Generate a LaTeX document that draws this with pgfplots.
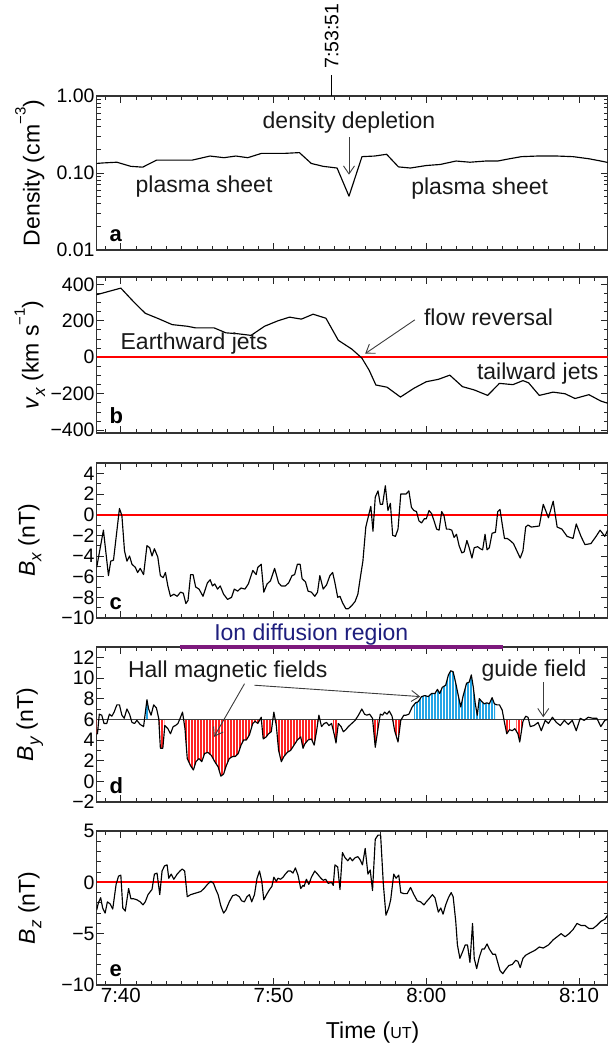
\documentclass[border=0pt]{standalone}
\usepackage{fontspec}
\setmainfont{Liberation Sans}
\usepackage{pgfplots}
\usepackage{pgfplotstable}
\pgfplotsset{compat=1.18}
\usepgfplotslibrary{fillbetween}
\usetikzlibrary{arrows.meta,patterns.meta}

\definecolor{hallred}{RGB}{255,35,35}
\definecolor{hallblue}{RGB}{35,165,230}
\definecolor{iondark}{RGB}{30,30,125}
\definecolor{ionbar}{RGB}{125,25,125}
\definecolor{annot}{RGB}{60,60,60}

\newcommand{\sub}[1]{\raisebox{-0.28em}{\fontsize{17}{17}\selectfont #1}}
\newcommand{\sups}[1]{\raisebox{0.6em}{\fontsize{15}{15}\selectfont #1}}

\pgfplotstableread{
x y
38.42 0.133
38.83 0.135
39.74 0.138
40.65 0.122
41.43 0.119
42.34 0.147
43.25 0.147
44.68 0.147
45.84 0.166
46.75 0.158
47.53 0.166
48.31 0.158
49.22 0.180
49.87 0.180
50.78 0.180
51.69 0.184
52.47 0.133
53.25 0.122
54.16 0.116
54.94 0.050
55.79 0.163
56.62 0.166
57.40 0.175
58.18 0.120
58.96 0.116
60.00 0.125
60.91 0.129
61.95 0.143
62.86 0.138
63.90 0.143
64.68 0.143
65.45 0.153
66.23 0.163
67.27 0.166
68.57 0.166
69.61 0.163
70.65 0.153
71.43 0.143
71.88 0.137
}\densdata

\pgfplotstableread{
x y
38.42 343
40.00 379
40.84 304
41.60 241
42.48 211
43.36 179
44.35 170
44.90 161
46.11 161
46.88 134
47.65 129
48.53 120
49.41 170
50.29 200
51.05 220
51.82 209
52.59 236
53.43 214
54.24 93
55.12 45
55.78 -4
56.26 -71
56.70 -152
57.43 -164
58.31 -218
59.19 -170
60.00 -134
60.79 -121
61.54 -98
62.37 -161
63.14 -179
64.02 -209
64.79 -143
65.67 -150
66.33 -128
66.70 -140
67.40 -209
68.31 -191
69.09 -200
69.74 -226
70.65 -205
71.43 -240
71.88 -252
}\vxdata

\pgfplotstableread{
x y
38.42 -5.1
38.86 -1.5
39.19 -5.9
39.34 -4.5
39.52 -4.4
39.91 0.6
40.07 -0.1
40.24 -3.5
40.40 -4.5
40.57 -4.0
40.73 -4.8
40.95 -5.1
41.10 -5.6
41.27 -5.2
41.49 -5.8
41.71 -3.0
41.89 -3.2
42.04 -4.0
42.20 -3.3
42.42 -4.1
42.59 -5.9
42.77 -6.1
42.92 -5.6
43.08 -6.9
43.25 -7.9
43.47 -7.7
43.69 -7.9
43.91 -7.5
44.09 -7.6
44.26 -8.6
44.40 -8.3
44.57 -5.8
44.73 -5.8
44.90 -7.0
45.12 -7.2
45.38 -7.9
45.67 -6.6
45.85 -6.3
46.00 -6.9
46.15 -6.7
46.33 -7.2
46.51 -6.9
46.73 -7.7
46.99 -8.2
47.25 -8.0
47.43 -7.2
47.65 -7.4
47.87 -7.1
48.13 -7.2
48.35 -6.7
48.64 -5.4
48.86 -5.8
48.97 -5.1
49.19 -4.8
49.36 -7.5
49.58 -6.7
49.80 -6.4
50.07 -5.2
50.33 -6.6
50.51 -6.9
50.77 -6.9
50.99 -6.6
51.21 -5.9
51.38 -5.8
51.56 -4.8
51.74 -4.8
51.87 -6.2
52.09 -6.5
52.26 -7.4
52.48 -7.5
52.70 -7.9
52.88 -7.5
53.03 -5.9
53.25 -7.2
53.47 -6.8
53.69 -5.9
53.87 -5.6
54.02 -6.6
54.20 -8.0
54.35 -7.9
54.51 -8.5
54.73 -9.1
54.90 -9.1
55.12 -8.8
55.34 -8.4
55.52 -7.7
55.67 -6.2
55.85 -4.5
56.04 -1.2
56.22 -0.1
56.37 0.8
56.51 -1.6
56.66 1.7
56.84 2.3
56.99 1.0
57.14 1.0
57.32 2.8
57.49 0.4
57.65 1.1
57.80 -2.0
57.98 -2.1
58.15 -1.4
58.33 2.0
58.53 2.0
58.68 2.0
58.86 2.3
59.03 0.7
59.19 0.4
59.36 0.3
59.52 -0.6
59.69 -0.8
59.87 -0.4
60.00 -0.4
60.18 0.4
60.35 0.1
60.51 -0.6
60.68 -1.4
60.84 -1.5
61.01 0.3
61.16 -0.1
61.32 -1.4
61.49 -1.4
61.67 -1.5
61.82 -2.2
61.98 -1.9
62.15 -3.0
62.33 -3.7
62.48 -3.6
62.66 -2.5
62.81 -3.2
62.99 -4.2
63.14 -3.2
63.36 -3.1
63.54 -3.3
63.69 -3.4
63.85 -1.9
63.98 -3.4
64.13 -3.2
64.31 -1.8
64.53 -1.7
64.68 0.3
64.83 0.5
64.97 -0.9
65.12 -2.3
65.30 -2.3
65.49 -2.5
65.71 -2.8
65.93 -3.5
66.15 -4.2
66.33 -3.5
66.51 -1.2
66.66 -1.0
66.88 -1.2
67.40 -1.1
67.66 1.0
68.00 -0.3
68.31 1.3
68.57 -1.2
68.88 -1.4
69.22 -2.1
69.61 -2.3
69.82 -0.9
70.13 -2.1
70.39 -2.9
70.78 -2.8
71.12 -2.1
71.38 -1.5
71.69 -2.1
71.88 -1.5
}\bxdata

\pgfplotstableread{
x y
38.42 4.6
38.47 4.6
38.59 6.5
38.75 6.4
38.90 5.6
39.08 5.6
39.25 6.5
39.41 6.3
39.56 6.7
39.74 7.4
39.91 7.4
40.07 6.4
40.22 6.1
40.40 7.0
40.57 6.5
40.73 5.7
40.90 5.6
41.05 5.9
41.27 5.5
41.49 5.3
41.71 7.9
41.82 7.0
41.98 6.4
42.15 7.4
42.33 7.1
42.48 6.1
42.59 3.2
42.75 3.2
42.88 5.4
43.08 5.1
43.25 4.6
43.43 5.3
43.58 5.4
43.74 5.6
43.91 6.2
44.04 6.7
44.20 5.1
44.35 2.2
44.57 1.5
44.75 1.1
44.92 1.9
45.12 2.2
45.30 1.9
45.49 2.7
45.71 2.8
45.93 2.5
46.15 1.9
46.37 1.4
46.55 0.5
46.73 0.7
46.90 1.5
47.10 2.2
47.32 2.4
47.49 2.4
47.69 2.7
47.87 3.5
48.04 4.0
48.22 4.0
48.42 4.5
48.64 5.6
48.79 5.8
48.97 5.6
49.19 6.2
49.32 4.1
49.52 4.3
49.67 4.6
49.85 4.8
50.02 6.7
50.18 5.4
50.33 3.0
50.51 1.9
50.68 2.4
50.90 2.8
51.12 3.0
51.34 3.5
51.56 4.0
51.78 4.3
51.93 3.2
52.04 3.6
52.26 4.0
52.48 4.1
52.66 3.5
52.81 4.8
52.97 6.4
53.14 5.3
53.32 5.6
53.47 5.7
53.63 5.4
53.80 5.6
53.98 4.5
54.09 3.7
54.24 5.6
54.42 5.3
54.57 4.8
54.73 5.0
54.90 5.3
55.12 5.6
55.34 5.9
55.56 6.4
55.78 7.0
55.96 6.5
56.11 6.4
56.29 6.5
56.48 6.1
56.66 3.3
56.84 5.1
56.99 6.5
57.14 6.4
57.27 6.7
57.43 6.5
57.58 6.8
57.76 6.3
57.93 4.9
58.15 3.8
58.33 5.9
58.53 6.4
58.68 6.4
58.86 6.5
59.08 7.2
59.30 7.6
59.47 7.7
59.69 8.2
59.91 8.3
60.13 8.2
60.35 8.5
60.57 8.5
60.73 8.9
60.88 8.5
61.05 9.1
61.27 9.3
61.45 10.3
61.60 10.7
61.76 10.6
61.93 9.5
62.11 8.2
62.26 7.2
62.42 8.3
62.64 9.5
62.81 9.6
62.95 10.3
63.08 9.1
63.21 7.5
63.34 6.4
63.47 8.0
63.65 7.7
63.80 7.5
63.96 7.6
64.13 7.5
64.31 8.1
64.46 7.5
64.62 7.4
64.79 7.4
64.97 6.9
65.12 5.7
65.27 4.6
65.45 5.0
65.63 4.9
65.80 5.1
66.00 4.6
66.12 3.8
66.33 5.8
66.51 6.3
66.66 6.2
66.81 5.3
67.06 5.4
67.32 5.7
67.53 4.9
67.79 5.9
68.00 5.6
68.26 6.2
68.52 5.7
68.78 5.4
69.04 5.9
69.30 5.5
69.56 5.9
69.82 4.9
70.08 6.1
70.34 5.9
70.60 6.2
70.91 6.1
71.17 6.1
71.43 5.3
71.69 5.9
71.88 6.0
}\bydata

\pgfplotstableread{
x y
38.42 -2.7
38.53 -2.0
38.68 -1.5
38.81 -2.5
38.97 -3.0
39.12 -1.9
39.30 -2.1
39.47 -2.6
39.69 -0.2
39.85 0.6
40.00 0.7
40.13 -2.5
40.29 -2.8
40.51 -0.6
40.66 -1.6
40.84 -1.6
41.05 -1.7
41.27 -1.9
41.45 -2.2
41.60 -1.9
41.78 -1.2
41.93 -0.9
42.04 -0.7
42.20 0.8
42.37 0.9
42.55 -1.2
42.70 1.1
42.86 1.6
43.03 1.7
43.14 0.4
43.30 0.8
43.47 0.3
43.69 0.8
43.87 1.1
44.02 1.3
44.18 1.1
44.35 -1.4
44.57 -1.2
44.79 -1.1
45.01 -1.0
45.23 -0.9
45.45 -0.6
45.67 -0.2
45.89 0.1
46.07 -0.1
46.22 -0.7
46.37 -1.2
46.55 -2.3
46.73 -3.0
46.88 -2.7
47.10 -1.9
47.32 -1.3
47.54 -1.2
47.76 -1.4
47.91 -1.8
48.09 -1.9
48.26 -1.4
48.42 -1.2
48.57 -1.9
48.75 -1.2
48.92 0.4
49.08 1.1
49.23 0.1
49.36 -1.7
49.54 -1.2
49.74 -0.7
49.89 -0.4
50.02 0.5
50.18 0.1
50.29 0.4
50.46 0.3
50.62 0.5
50.77 0.8
50.95 1.1
51.12 1.1
51.27 0.9
51.43 1.4
51.60 0.7
51.78 -0.6
51.93 -0.3
52.00 -0.4
52.15 0.3
52.31 -0.2
52.48 0.5
52.70 1.1
52.88 0.8
53.10 0.4
53.25 0.2
53.41 0.3
53.58 -0.1
53.80 0.0
53.91 -0.3
54.02 1.7
54.20 1.5
54.35 -0.7
54.51 2.9
54.68 2.4
54.86 2.1
55.01 2.4
55.16 2.1
55.34 2.4
55.52 2.5
55.67 2.2
55.82 1.7
56.00 3.3
56.18 0.8
56.33 1.2
56.48 -0.8
56.66 4.2
56.84 4.6
57.01 4.6
57.19 -0.2
57.36 -3.2
57.54 -2.5
57.67 -1.7
57.87 0.8
58.02 0.4
58.20 0.7
58.33 -1.0
58.53 -1.1
58.75 -1.1
58.97 -0.5
59.19 -1.2
59.41 -1.8
59.63 -1.9
59.85 -2.2
60.00 -1.9
60.18 -1.6
60.40 -1.2
60.57 -1.5
60.79 -2.9
60.95 -2.5
61.10 -3.1
61.27 -2.2
61.45 -1.5
61.63 -1.0
61.76 -1.4
61.93 -3.8
62.04 -6.1
62.20 -7.4
62.37 -6.8
62.55 -6.1
62.70 -6.1
62.86 -7.8
63.03 -4.0
63.14 -7.4
63.30 -8.4
63.47 -7.3
63.65 -6.5
63.80 -6.5
63.98 -6.0
64.13 -6.5
64.35 -7.0
64.53 -7.0
64.68 -7.8
64.83 -8.6
65.01 -8.9
65.19 -8.5
65.41 -8.1
65.63 -8.0
65.85 -7.6
66.00 -7.7
66.15 -8.3
66.33 -7.4
66.51 -7.1
66.75 -6.9
67.14 -6.6
67.40 -6.3
67.66 -6.4
68.00 -6.1
68.31 -5.6
68.57 -5.3
68.83 -5.0
69.09 -5.3
69.35 -5.0
69.61 -4.6
69.87 -4.0
70.13 -4.2
70.39 -4.2
70.65 -4.5
70.91 -4.5
71.17 -4.2
71.43 -3.8
71.69 -3.6
71.88 -3.2
}\bzdata

\pgfplotsset{
  panel/.style={
    scale only axis, width=511pt, anchor=south west,
    xmin=38.42, xmax=71.88,
    xtick={40,50,60,70}, xticklabels={},
    minor xtick={39,40,...,71},
    major tick length=7pt, minor tick length=4pt,
    every tick/.style={black!85, line width=0.9pt},
    axis line style={line width=1.2pt, black!80},
    tick label style={font=\fontsize{19.5}{20}\selectfont},
    xticklabel style={font=\fontsize{20.5}{21}\selectfont},
    yticklabel style={inner sep=2pt},
    label style={font=\fontsize{23}{25}\selectfont},
    ylabel style={at={(axis description cs:-0.131,0.5)}, anchor=center},
  },
  curve/.style={black, line width=1.15pt, line join=round},
  zeroline/.style={red, line width=1.8pt},
}
\tikzset{
  annot text/.style={font=\fontsize{23}{25}\selectfont, inner sep=0pt, text=black!90},
  annot arrow/.style={draw=annot, line width=0.9pt, -{Straight Barb[length=8pt,width=11pt]}},
  letter/.style={font=\fontsize{22}{22}\selectfont\bfseries, anchor=base west, inner sep=0pt},
}
\newcommand{\hallfill}[3]{\addplot[draw=none, pattern={Lines[angle=90,distance=3pt,line width=2.1pt]}, pattern color=#1] fill between[of=by and six, soft clip={(axis cs:#2,-2) rectangle (axis cs:#3,13)}];}

\begin{document}
\begin{tikzpicture}

% ---------------- panel a
\begin{axis}[panel, at={(96.7pt,806pt)}, height=154pt, clip=false,
  ymode=log, ymin=0.01, ymax=1, ytick={0.01,0.1,1}, yticklabels={0.01,0.10,1.00},
  ylabel={Density (cm\sups{−3})}]
\addplot[curve] table {\densdata};
\node[annot text] at (axis cs:54.94,0.457) {density depletion};
\draw[annot arrow] (axis cs:54.94,0.29) -- (axis cs:54.94,0.095);
\node[annot text] at (axis cs:45.45,0.0667) {plasma sheet};
\node[annot text] at (axis cs:63.5,0.0634) {plasma sheet};
\node[letter] at (rel axis cs:0.025,0.058) {a};
\coordinate (mark) at (axis cs:53.8,1);
\end{axis}
\draw[line width=1.3pt] (mark) -- ++(0pt,21pt);
\node[rotate=90, anchor=west, inner sep=0pt, font=\fontsize{19.5}{20}\selectfont] at ([yshift=27pt]mark) {7:53:51};

% ---------------- panel b
\begin{axis}[panel, at={(96.7pt,623pt)}, height=156pt,
  ymin=-415, ymax=440, ytick={-400,-200,0,200,400},
  yticklabels={−400,−200,0,200,400},
  minor ytick={-400,-350,...,400},
  ylabel={\textit{v}\sub{\textit{x}} (km s\sups{−1})}]
\addplot[zeroline] coordinates {(38.42,0) (71.88,0)};
\addplot[curve] table {\vxdata};
\node[annot text] at (axis cs:64.08,217) {flow reversal};
\draw[annot arrow] (axis cs:59.25,205) -- (axis cs:56.0,20);
\node[annot text] at (axis cs:44.8,75) {Earthward jets};
\node[annot text] at (axis cs:67.3,-87) {tailward jets};
\node[letter] at (rel axis cs:0.025,0.058) {b};
\end{axis}

% ---------------- panel c
\begin{axis}[panel, at={(96.7pt,438pt)}, height=155pt,
  ymin=-10, ymax=5, ytick={-10,-8,-6,-4,-2,0,2,4},
  yticklabels={−10,−8,−6,−4,−2,0,2,4},
  minor ytick={-10,-9,...,5},
  ylabel={\textit{B}\sub{\textit{x}} (nT)}]
\addplot[zeroline] coordinates {(38.42,0) (71.88,0)};
\addplot[curve] table {\bxdata};
\node[letter] at (rel axis cs:0.025,0.058) {c};
\end{axis}

% ---------------- panel d
\begin{axis}[panel, at={(96.7pt,254pt)}, height=155pt, clip=false,
  ymin=-2, ymax=13, ytick={-2,0,2,4,6,8,10,12},
  yticklabels={−2,0,2,4,6,8,10,12},
  minor ytick={-2,-1,...,13},
  ylabel={\textit{B}\sub{\textit{y}} (nT)}]
\addplot[draw=none, name path=six, forget plot] coordinates {(38.42,6) (71.88,6)};
\addplot[draw=none, name path=by, forget plot] table {\bydata};
\hallfill{hallred}{38.42}{38.56}
\hallfill{hallblue}{41.6}{41.8}
\hallfill{hallred}{42.5}{42.85}
\hallfill{hallred}{44.1}{49.1}
\hallfill{hallred}{49.25}{49.95}
\hallfill{hallred}{50.1}{52.92}
\hallfill{hallred}{53.9}{54.2}
\hallfill{hallred}{56.55}{56.85}
\hallfill{hallred}{57.85}{58.33}
\hallfill{hallblue}{59.2}{64.5}
\hallfill{hallred}{65.15}{65.5}
\hallfill{hallred}{65.9}{66.3}
\addplot[black!75, line width=1pt] coordinates {(38.42,6) (71.88,6)};
\addplot[curve] table {\bydata};
\node[annot text] at (axis cs:47.0,10.65) {Hall magnetic fields};
\draw[annot arrow] (axis cs:48.1,9.45) -- (axis cs:46.1,4.3);
\draw[annot arrow] (axis cs:48.75,9.3) -- (axis cs:59.6,8.2);
\node[annot text] at (axis cs:67.06,10.7) {guide field};
\draw[annot arrow] (axis cs:67.66,9.6) -- (axis cs:67.66,6.2);
\draw[line width=4.5pt, ionbar] (axis cs:43.9,13) -- (axis cs:65.0,13);
\node[font=\fontsize{23}{25}\selectfont, text=iondark, inner sep=0pt, yshift=12pt] at (axis cs:52.47,13) {Ion diffusion region};
\node[letter] at (rel axis cs:0.025,0.058) {d};
\end{axis}

% ---------------- panel e
\begin{axis}[panel, at={(96.7pt,71pt)}, height=154pt,
  ymin=-10, ymax=5, ytick={-10,-5,0,5},
  yticklabels={−10,−5,0,5},
  minor ytick={-10,-9,...,5},
  xticklabels={7:40,7:50,8:00,8:10},
  ylabel={\textit{B}\sub{\textit{z}} (nT)},
  xlabel={Time ({\fontsize{16}{16}\selectfont UT})},
  xlabel style={at={(axis description cs:0.54,-0.31)}, anchor=center}]
\addplot[zeroline] coordinates {(38.42,0) (71.88,0)};
\addplot[curve] table {\bzdata};
\node[letter] at (rel axis cs:0.025,0.058) {e};
\end{axis}

\pgfresetboundingbox
\path[use as bounding box] (0,0) rectangle (611pt,1056pt);
\end{tikzpicture}
\end{document}
